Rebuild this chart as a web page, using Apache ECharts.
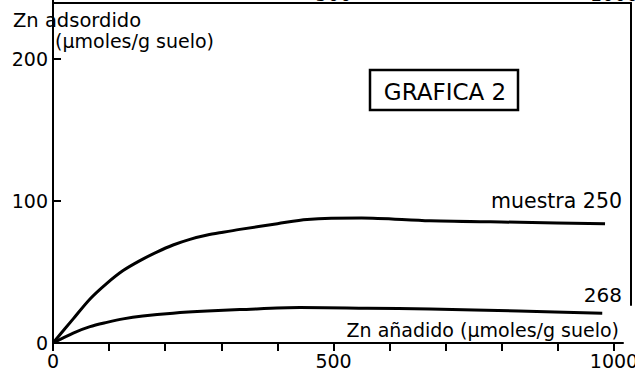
<!DOCTYPE html>
<html>
<head>
<meta charset="utf-8">
<script src="https://cdn.jsdelivr.net/npm/echarts@6/dist/echarts.min.js"></script>
<style>
html,body{margin:0;padding:0;background:#fff;}
#c{width:635px;height:373px;}
</style>
</head>
<body>
<div id="c"></div>
<script>
// ---- data ----
var sample250X = [0, 36, 66, 96, 125, 155, 185, 214, 244, 275, 303, 333, 400, 453, 550, 672, 832, 984];
var sample250Y = [0, 17, 31, 42, 51, 58, 64, 69, 73, 76, 78, 80, 84, 87, 88, 86, 85, 84];
var sample268X = [0, 36, 66, 96, 125, 160, 214, 275, 333, 440, 560, 672, 830, 979];
var sample268Y = [0, 7, 11.5, 14.5, 17, 19, 21, 22.5, 23.5, 25, 24.5, 24, 22.5, 21];
var xTickValues = [0, 100, 200, 300, 400, 500, 600, 700, 800, 900, 1000];
var xLabelValues = [0, 500, 1000];
var yTickValues = [100, 200];
var yLabelValues = [0, 100, 200];
var topLabelValues = [500, 1000];
var seriesNames = ['muestra 250', '268'];

function pairs(xs, ys) { return xs.map(function (x, i) { return [x, ys[i]]; }); }
function plain(v) { return String(v); }

var FONT = '"DejaVu Sans", sans-serif';
var chart = echarts.init(document.getElementById('c'), null, {renderer: 'svg'});
chart.setOption({
  animation: false,
  backgroundColor: '#fff',
  grid: [
    {left: 53, right: 12, top: 0, bottom: 30, containLabel: false, outerBoundsMode: 'none'},
    {left: 53, right: 4, top: 3, bottom: 68, containLabel: false, outerBoundsMode: 'none'}
  ],
  xAxis: [
    {
      gridIndex: 0, type: 'value', min: 0, max: 1016,
      axisLine: {show: true, onZero: false, lineStyle: {color: '#000', width: 2}},
      axisTick: {show: true, inside: false, length: 8, lineStyle: {color: '#000', width: 2}, customValues: xTickValues},
      axisLabel: {color: '#000', fontFamily: FONT, fontSize: 19, margin: 8, formatter: plain, customValues: xLabelValues},
      splitLine: {show: false}
    },
    {
      gridIndex: 1, type: 'value', position: 'top', min: 0, max: 1030,
      axisLine: {show: true, onZero: false, lineStyle: {color: '#000', width: 2}},
      axisTick: {show: false},
      axisLabel: {color: '#000', fontFamily: FONT, fontSize: 19, margin: 0, formatter: plain, customValues: topLabelValues},
      splitLine: {show: false}
    }
  ],
  yAxis: [
    {
      gridIndex: 0, type: 'value', min: 0, max: 241.5,
      axisLine: {show: true, onZero: false, lineStyle: {color: '#000', width: 2}},
      axisTick: {show: true, inside: true, length: 8, lineStyle: {color: '#000', width: 2}, customValues: yTickValues},
      axisLabel: {color: '#000', fontFamily: FONT, fontSize: 19, margin: 5, formatter: plain, customValues: yLabelValues},
      splitLine: {show: false}
    },
    {
      gridIndex: 1, type: 'value', position: 'right', min: 0, max: 100,
      axisLine: {show: true, onZero: false, lineStyle: {color: '#000', width: 2}},
      axisTick: {show: false}, axisLabel: {show: false}, splitLine: {show: false}
    }
  ],
  series: [
    {
      name: seriesNames[0], type: 'line', xAxisIndex: 0, yAxisIndex: 0,
      data: pairs(sample250X, sample250Y), smooth: 0.3, showSymbol: false,
      lineStyle: {color: '#000', width: 3}
    },
    {
      name: seriesNames[1], type: 'line', xAxisIndex: 0, yAxisIndex: 0,
      data: pairs(sample268X, sample268Y), smooth: 0.3, showSymbol: false,
      lineStyle: {color: '#000', width: 3}
    }
  ],
  graphic: [
    {type: 'text', left: 13, top: 10, style: {text: 'Zn adsordido', fill: '#000', font: '19.5px ' + FONT}},
    {type: 'text', left: 55, top: 31, style: {text: '(µmoles/g suelo)', fill: '#000', font: '19px ' + FONT}},
    {type: 'rect', shape: {x: 370, y: 70, width: 148, height: 40}, style: {fill: '#fff', stroke: '#000', lineWidth: 2.5}},
    {type: 'text', x: 445, y: 92, style: {text: 'GRAFICA 2', fill: '#000', font: '23px ' + FONT, align: 'center', verticalAlign: 'middle'}},
    {type: 'text', x: 622, y: 201, style: {text: seriesNames[0], fill: '#000', font: '20.5px ' + FONT, align: 'right', verticalAlign: 'middle'}},
    {type: 'text', x: 622, y: 295, style: {text: seriesNames[1], fill: '#000', font: '20px ' + FONT, align: 'right', verticalAlign: 'middle'}},
    {type: 'text', x: 619, y: 330, style: {text: 'Zn añadido (µmoles/g suelo)', fill: '#000', font: '19px ' + FONT, align: 'right', verticalAlign: 'middle'}}
  ]
});
</script>
</body>
</html>
